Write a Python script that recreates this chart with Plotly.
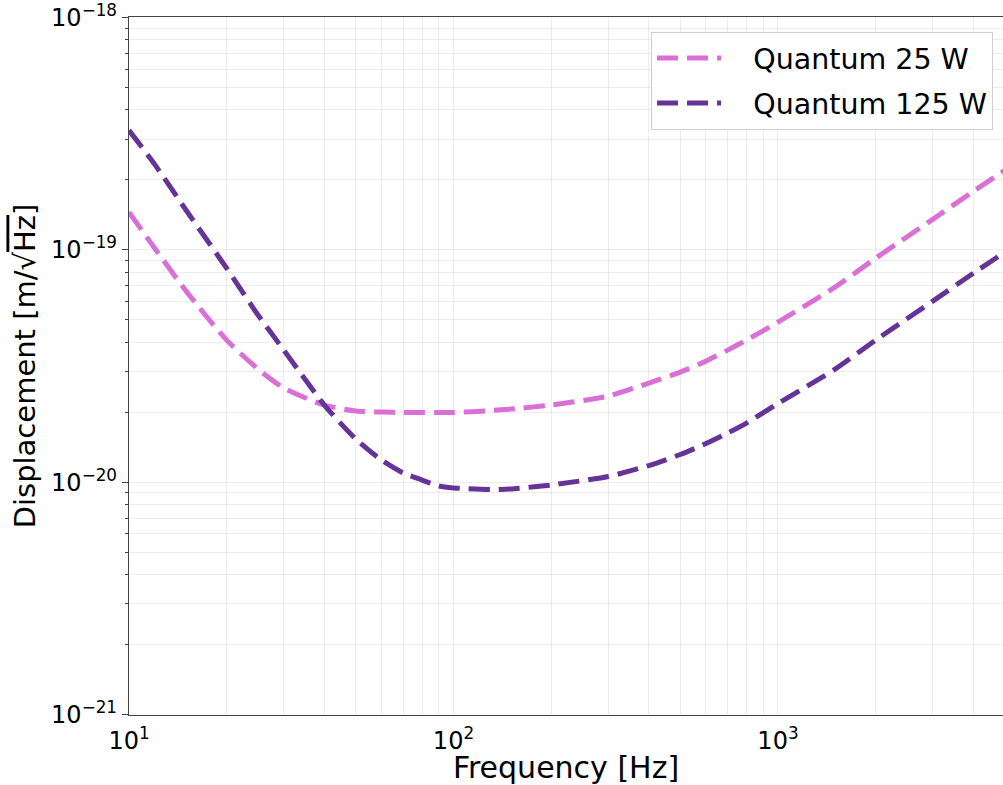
import plotly.graph_objects as go

# Frequency [Hz] sample points
freq = [10, 12, 15, 20, 25, 30, 40, 50, 60, 70, 80, 90, 100, 130, 150, 200, 300, 400, 500, 600, 700, 800,
        1000, 1500, 2000, 3000, 4000, 5000]

# Displacement [m/sqrt(Hz)]
quantum_25w = [1.452e-19, 1.017e-19, 6.645e-20, 4.091e-20, 3.070e-20, 2.544e-20, 2.150e-20, 2.026e-20,
               2.006e-20, 1.996e-20, 1.996e-20, 1.996e-20, 1.996e-20, 2.036e-20, 2.066e-20, 2.150e-20,
               2.350e-20, 2.673e-20, 2.980e-20, 3.323e-20, 3.705e-20, 4.091e-20, 4.888e-20, 6.913e-20,
               9.21e-20, 1.354e-19, 1.787e-19, 2.200e-19]
quantum_125w = [3.268e-19, 2.334e-19, 1.481e-19, 8.340e-20, 5.239e-20, 3.705e-20, 2.150e-20, 1.536e-20,
                1.247e-20, 1.097e-20, 1.023e-20, 9.645e-21, 9.456e-21, 9.316e-21, 9.363e-21, 9.741e-21,
                1.060e-20, 1.181e-20, 1.317e-20, 1.469e-20, 1.630e-20, 1.799e-20, 2.182e-20, 3.070e-20,
                4.091e-20, 6.017e-20, 7.937e-20, 9.772e-20]

series_names = ["Quantum 25 W", "Quantum 125 W"]
series_colors = ["#DA70D6", "#663399"]

x_tickvals = [10, 100, 1000]
x_ticktext = ["10<sup>1</sup>", "10<sup>2</sup>", "10<sup>3</sup>"]
y_tickvals = [1e-21, 1e-20, 1e-19, 1e-18]
y_ticktext = ["10<sup>\u221221</sup>", "10<sup>\u221220</sup>", "10<sup>\u221219</sup>", "10<sup>\u221218</sup>"]

# minor (2..9 x decade) grid positions
x_minor = [m * 10 ** e for e in range(1, 4) for m in range(2, 10)]
y_minor = [m * 10.0 ** e for e in range(-21, -18) for m in range(2, 10)]

fig = go.Figure()
for i, (name, vals, col) in enumerate(zip(series_names, [quantum_25w, quantum_125w], series_colors)):
    fig.add_trace(go.Scatter(
        x=freq, y=vals, mode="lines", name="\u00a0\u00a0\u00a0" + name, legendgroup=f"g{i}",
        line=dict(color=col, width=5, dash="21px,9px", shape="spline", smoothing=0.6),
    ))

font_family = "DejaVu Sans, sans-serif"
grid_col = "rgba(0,0,0,0.07)"

fig.update_layout(
    width=1003, height=785,
    margin=dict(l=129, r=0, t=17, b=70),
    paper_bgcolor="white", plot_bgcolor="white",
    font=dict(family=font_family, color="black", size=22),
    legend=dict(
        x=0.9886, y=0.9785, xanchor="right", yanchor="top",
        bgcolor="white", bordercolor="#d0d0d0", borderwidth=1,
        font=dict(size=28.5, family=font_family),
        itemwidth=64, tracegroupgap=5, traceorder="grouped",
    ),
    showlegend=True,
)

fig.update_xaxes(
    type="log", range=[1, 3.6935], automargin=False,
    title=dict(text="Frequency [Hz]", font=dict(size=30), standoff=2),
    tickmode="array", tickvals=x_tickvals, ticktext=x_ticktext,
    showline=True, linecolor="#444444", linewidth=1.3, mirror=True,
    ticks="", ticklabelstandoff=4, ticklabeloverflow="allow",
    showgrid=True, gridcolor=grid_col,
    minor=dict(tickmode="array", tickvals=x_minor, showgrid=True, gridcolor=grid_col, ticks=""),
    tickfont=dict(size=24),
    zeroline=False,
)
fig.update_yaxes(
    type="log", range=[-21.001, -17.998], automargin=False,
    title=dict(text="Displacement [m/√<span style='text-decoration:overline'>Hz</span>]",
               font=dict(size=29), standoff=6),
    tickmode="array", tickvals=y_tickvals, ticktext=y_ticktext, ticklabeloverflow="allow",
    showline=True, linecolor="#444444", linewidth=1.3, mirror=True,
    ticks="outside", ticklen=6, tickcolor="#444444",
    showgrid=True, gridcolor=grid_col,
    minor=dict(tickmode="array", tickvals=y_minor, showgrid=True, gridcolor=grid_col,
               ticks="outside", ticklen=3, tickcolor="#444444"),
    tickfont=dict(size=24),
    zeroline=False,
)

fig.write_html("out.html", config={"displayModeBar": False},
               post_script="document.body.style.margin='0';")
